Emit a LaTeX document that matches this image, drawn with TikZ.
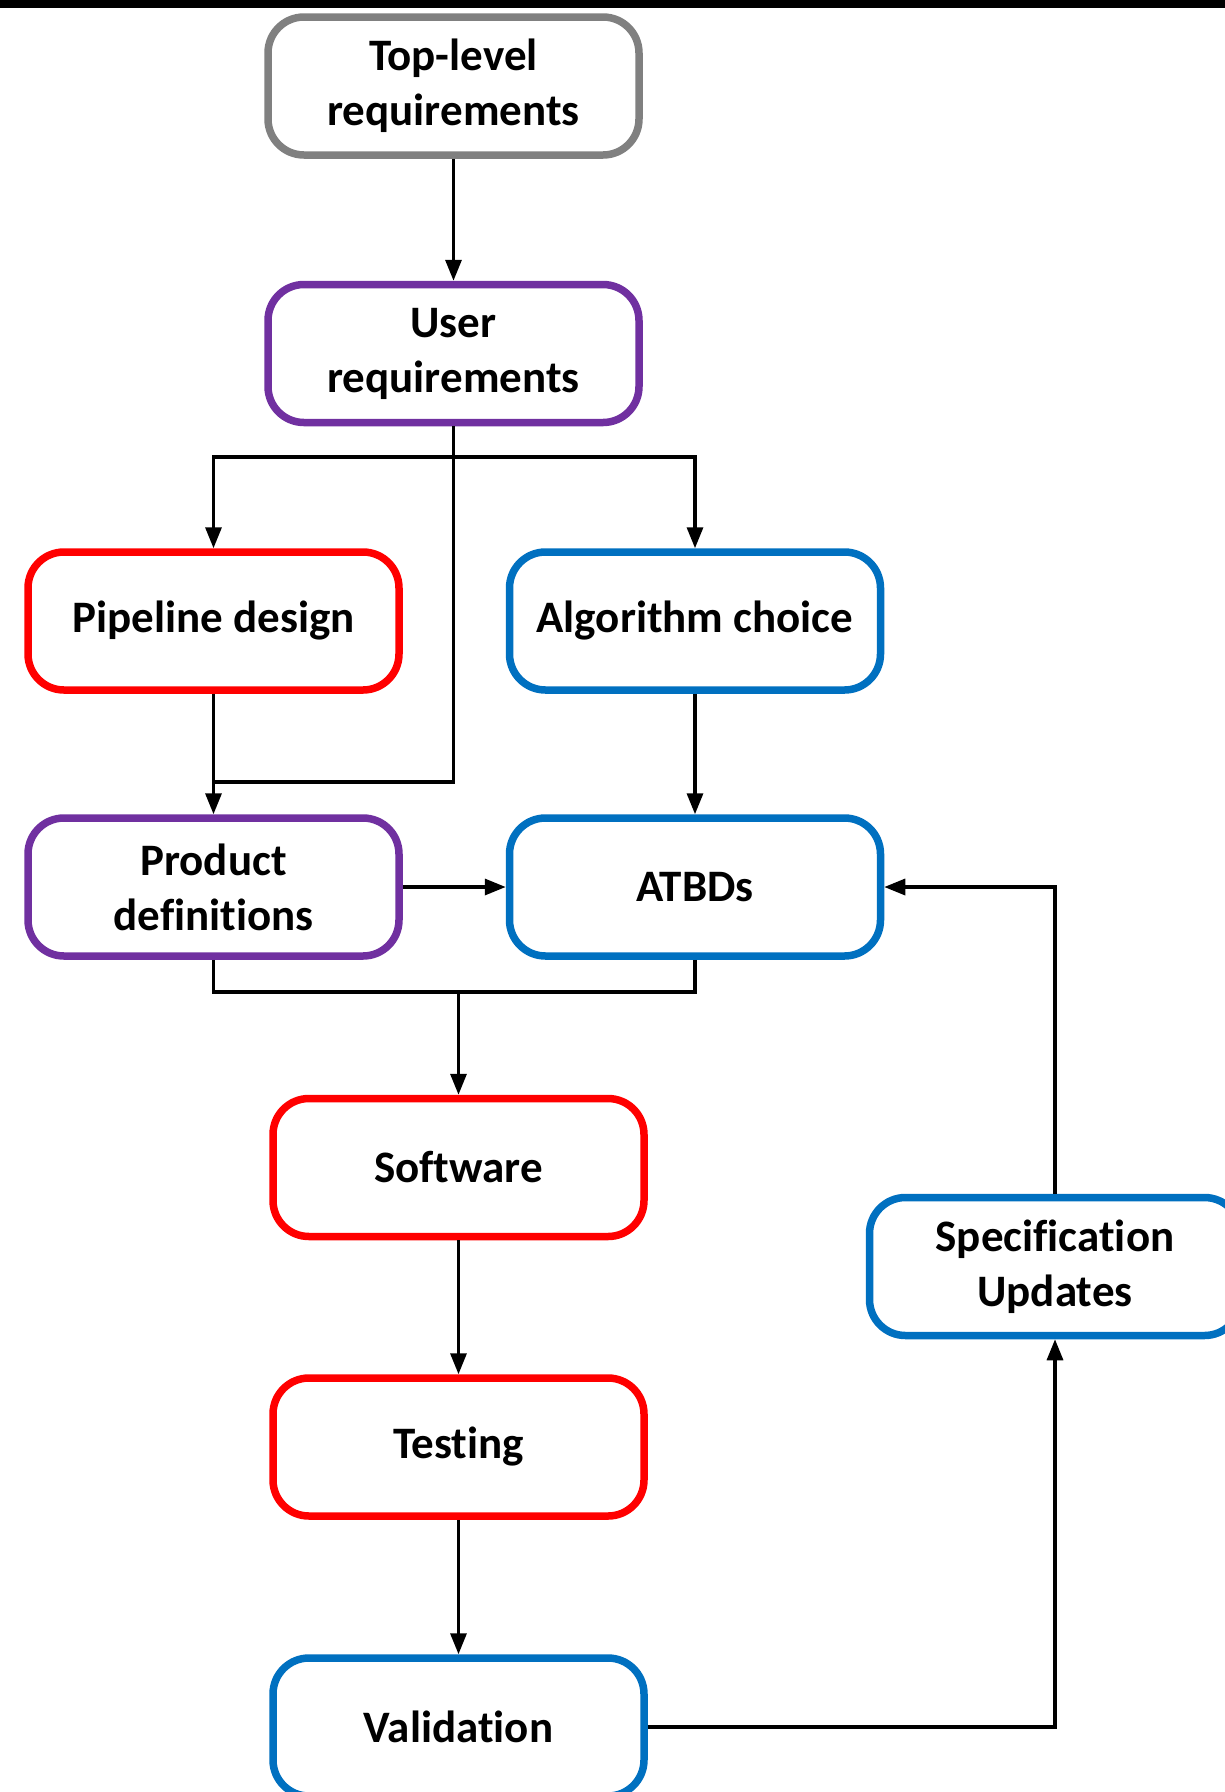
\documentclass[tikz,border=0pt]{standalone}
\usepackage{fontspec}
\setmainfont[Ligatures=NoCommon]{Carlito}
\usetikzlibrary{arrows.meta}
\definecolor{cgray}{RGB}{128,128,128}
\definecolor{cpurple}{RGB}{112,48,160}
\definecolor{cred}{RGB}{255,0,0}
\definecolor{cblue}{RGB}{0,112,192}
\tikzset{
  box/.style={draw, rectangle, rounded corners=36pt, line width=7.5pt, fill=white,
    minimum width=371pt, minimum height=138pt, inner sep=0pt, align=center,
    font=\fontsize{45}{55}\selectfont\bfseries},
  conn/.style={line width=3.3pt, draw=black},
  arr/.style={conn, -{Triangle[length=21pt,width=16pt]}}
}
\begin{document}
\begin{tikzpicture}[x=1pt,y=-1pt]
\useasboundingbox (0,0) rectangle (1225,1792);
\clip (0,0) rectangle (1225,1792);
\fill[white] (0,0) rectangle (1225,1792);
\fill[black] (0,0) rectangle (1225,8);

\node[box, draw=cgray]   (top)   at (453.5,86)    {Top-level\\requirements};
\node[box, draw=cpurple] (user)  at (453.5,353.5) {User\\requirements};
\node[box, draw=cred]    (pipe)  at (213.5,621)   {Pipeline design};
\node[box, draw=cblue]   (algo)  at (695,621)     {Algorithm choice};
\node[box, draw=cpurple] (prod)  at (213.5,887)   {Product\\definitions};
\node[box, draw=cblue]   (atbd)  at (695,887)     {ATBDs};
\node[box, draw=cred]    (soft)  at (458.5,1167.5){Software};
\node[box, draw=cred]    (test)  at (458.5,1447)  {Testing};
\node[box, draw=cblue]   (valid) at (458.5,1727)  {Validation};
\node[box, draw=cblue]   (spec)  at (1055,1266.5) {Specification\\Updates};

\coordinate (br1) at (453.5,457);
\coordinate (br2) at (453.5,782);
\coordinate (mg)  at (458.5,992);

\draw[arr] (top.south) -- (user.north);
\draw[conn] (user.south) -- (br1);
\draw[arr] (br1) -| (pipe.north);
\draw[arr] (br1) -| (algo.north);
\draw[arr] (pipe.south) -- (prod.north);
\draw[conn] (br1) -- (br2) -- (br2 -| prod.north);
\draw[arr] (algo.south) -- (atbd.north);
\draw[arr] (prod.east) -- (atbd.west);
\draw[conn] (prod.south) |- (mg);
\draw[conn] (atbd.south) |- (mg);
\draw[arr] (mg) -- (soft.north);
\draw[arr] (soft.south) -- (test.north);
\draw[arr] (test.south) -- (valid.north);
\draw[arr] (valid.east) -| (spec.south);
\draw[arr] (spec.north) |- (atbd.east);
\end{tikzpicture}
\end{document}
